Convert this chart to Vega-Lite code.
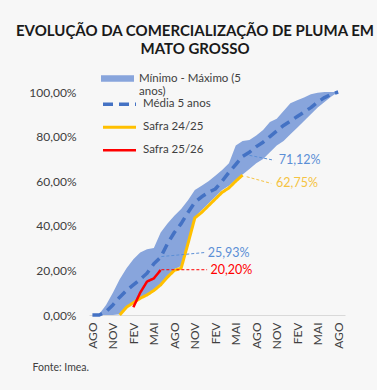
{
  "$schema": "https://vega.github.io/schema/vega-lite/v6.json",
  "autosize": {"type": "none"},
  "padding": {"left": 89, "top": 92, "right": 32, "bottom": 75},
  "width": 256,
  "height": 223,
  "background": "#f7f7f7",
  "config": {
    "view": {"stroke": null},
    "font": "Lato",
    "axis": {"labelFont": "Lato", "labelColor": "#404040", "labelFontSize": 12}
  },
  "title": {
    "text": ["EVOLUÇÃO DA COMERCIALIZAÇÃO DE PLUMA EM", "MATO GROSSO"],
    "font": "Lato", "fontSize": 15, "fontWeight": "bold", "color": "#1a1a1a",
    "anchor": "middle", "frame": "group", "dx": -22, "offset": 5.5, "lineHeight": 18
  },
  "datasets": {
    "band": [
      {"m": 0, "serie": "Mínimo - Máximo (5 anos)", "lo": 0, "hi": 0},
      {"m": 1, "serie": "Mínimo - Máximo (5 anos)", "lo": 0, "hi": 0.5},
      {"m": 2, "serie": "Mínimo - Máximo (5 anos)", "lo": 0, "hi": 4.5},
      {"m": 3, "serie": "Mínimo - Máximo (5 anos)", "lo": 0, "hi": 10},
      {"m": 4, "serie": "Mínimo - Máximo (5 anos)", "lo": 0.3, "hi": 16},
      {"m": 5, "serie": "Mínimo - Máximo (5 anos)", "lo": 3.5, "hi": 21},
      {"m": 6, "serie": "Mínimo - Máximo (5 anos)", "lo": 5.5, "hi": 25},
      {"m": 7, "serie": "Mínimo - Máximo (5 anos)", "lo": 7.5, "hi": 28},
      {"m": 8, "serie": "Mínimo - Máximo (5 anos)", "lo": 9, "hi": 29.5},
      {"m": 9, "serie": "Mínimo - Máximo (5 anos)", "lo": 11, "hi": 30},
      {"m": 10, "serie": "Mínimo - Máximo (5 anos)", "lo": 14, "hi": 37},
      {"m": 11, "serie": "Mínimo - Máximo (5 anos)", "lo": 17.5, "hi": 41},
      {"m": 12, "serie": "Mínimo - Máximo (5 anos)", "lo": 20.5, "hi": 44.5},
      {"m": 13, "serie": "Mínimo - Máximo (5 anos)", "lo": 22, "hi": 47.5},
      {"m": 14, "serie": "Mínimo - Máximo (5 anos)", "lo": 33, "hi": 51.5},
      {"m": 15, "serie": "Mínimo - Máximo (5 anos)", "lo": 44, "hi": 56},
      {"m": 16, "serie": "Mínimo - Máximo (5 anos)", "lo": 47, "hi": 58},
      {"m": 17, "serie": "Mínimo - Máximo (5 anos)", "lo": 50, "hi": 60},
      {"m": 18, "serie": "Mínimo - Máximo (5 anos)", "lo": 53, "hi": 62.5},
      {"m": 19, "serie": "Mínimo - Máximo (5 anos)", "lo": 56, "hi": 65},
      {"m": 20, "serie": "Mínimo - Máximo (5 anos)", "lo": 58, "hi": 68},
      {"m": 21, "serie": "Mínimo - Máximo (5 anos)", "lo": 60.5, "hi": 76},
      {"m": 22, "serie": "Mínimo - Máximo (5 anos)", "lo": 63, "hi": 78},
      {"m": 23, "serie": "Mínimo - Máximo (5 anos)", "lo": 65.5, "hi": 78.5},
      {"m": 24, "serie": "Mínimo - Máximo (5 anos)", "lo": 68, "hi": 80.5},
      {"m": 25, "serie": "Mínimo - Máximo (5 anos)", "lo": 70, "hi": 83},
      {"m": 26, "serie": "Mínimo - Máximo (5 anos)", "lo": 73, "hi": 86.5},
      {"m": 27, "serie": "Mínimo - Máximo (5 anos)", "lo": 76, "hi": 88},
      {"m": 28, "serie": "Mínimo - Máximo (5 anos)", "lo": 78, "hi": 91.5},
      {"m": 29, "serie": "Mínimo - Máximo (5 anos)", "lo": 81, "hi": 95},
      {"m": 30, "serie": "Mínimo - Máximo (5 anos)", "lo": 84, "hi": 96.3},
      {"m": 31, "serie": "Mínimo - Máximo (5 anos)", "lo": 87, "hi": 97.5},
      {"m": 32, "serie": "Mínimo - Máximo (5 anos)", "lo": 90, "hi": 99},
      {"m": 33, "serie": "Mínimo - Máximo (5 anos)", "lo": 93, "hi": 99.7},
      {"m": 34, "serie": "Mínimo - Máximo (5 anos)", "lo": 95.5, "hi": 100},
      {"m": 35, "serie": "Mínimo - Máximo (5 anos)", "lo": 98, "hi": 100},
      {"m": 36, "serie": "Mínimo - Máximo (5 anos)", "lo": 100, "hi": 100}
    ],
    "lines": [
      {"m": 0, "serie": "Média 5 anos", "v": 0},
      {"m": 1, "serie": "Média 5 anos", "v": 0},
      {"m": 2, "serie": "Média 5 anos", "v": 1.5},
      {"m": 3, "serie": "Média 5 anos", "v": 4.5},
      {"m": 4, "serie": "Média 5 anos", "v": 8},
      {"m": 5, "serie": "Média 5 anos", "v": 11},
      {"m": 6, "serie": "Média 5 anos", "v": 13.5},
      {"m": 7, "serie": "Média 5 anos", "v": 16},
      {"m": 8, "serie": "Média 5 anos", "v": 18.7},
      {"m": 9, "serie": "Média 5 anos", "v": 23},
      {"m": 10, "serie": "Média 5 anos", "v": 25.93},
      {"m": 11, "serie": "Média 5 anos", "v": 32},
      {"m": 12, "serie": "Média 5 anos", "v": 37},
      {"m": 13, "serie": "Média 5 anos", "v": 41},
      {"m": 14, "serie": "Média 5 anos", "v": 46},
      {"m": 15, "serie": "Média 5 anos", "v": 50.5},
      {"m": 16, "serie": "Média 5 anos", "v": 53},
      {"m": 17, "serie": "Média 5 anos", "v": 55},
      {"m": 18, "serie": "Média 5 anos", "v": 56.5},
      {"m": 19, "serie": "Média 5 anos", "v": 60},
      {"m": 20, "serie": "Média 5 anos", "v": 64},
      {"m": 21, "serie": "Média 5 anos", "v": 67.5},
      {"m": 22, "serie": "Média 5 anos", "v": 71.12},
      {"m": 23, "serie": "Média 5 anos", "v": 73},
      {"m": 24, "serie": "Média 5 anos", "v": 75.5},
      {"m": 25, "serie": "Média 5 anos", "v": 77.5},
      {"m": 26, "serie": "Média 5 anos", "v": 80},
      {"m": 27, "serie": "Média 5 anos", "v": 82.5},
      {"m": 28, "serie": "Média 5 anos", "v": 85},
      {"m": 29, "serie": "Média 5 anos", "v": 87},
      {"m": 30, "serie": "Média 5 anos", "v": 89},
      {"m": 31, "serie": "Média 5 anos", "v": 91},
      {"m": 32, "serie": "Média 5 anos", "v": 93},
      {"m": 33, "serie": "Média 5 anos", "v": 95.5},
      {"m": 34, "serie": "Média 5 anos", "v": 97.5},
      {"m": 35, "serie": "Média 5 anos", "v": 99},
      {"m": 36, "serie": "Média 5 anos", "v": 100},
      {"m": 4, "serie": "Safra 24/25", "v": 0},
      {"m": 5, "serie": "Safra 24/25", "v": 3.5},
      {"m": 6, "serie": "Safra 24/25", "v": 5.5},
      {"m": 7, "serie": "Safra 24/25", "v": 7.5},
      {"m": 8, "serie": "Safra 24/25", "v": 9},
      {"m": 9, "serie": "Safra 24/25", "v": 11},
      {"m": 10, "serie": "Safra 24/25", "v": 13.5},
      {"m": 11, "serie": "Safra 24/25", "v": 17},
      {"m": 12, "serie": "Safra 24/25", "v": 20},
      {"m": 13, "serie": "Safra 24/25", "v": 21},
      {"m": 14, "serie": "Safra 24/25", "v": 32},
      {"m": 15, "serie": "Safra 24/25", "v": 43.5},
      {"m": 16, "serie": "Safra 24/25", "v": 46},
      {"m": 17, "serie": "Safra 24/25", "v": 49},
      {"m": 18, "serie": "Safra 24/25", "v": 52},
      {"m": 19, "serie": "Safra 24/25", "v": 55},
      {"m": 20, "serie": "Safra 24/25", "v": 57},
      {"m": 21, "serie": "Safra 24/25", "v": 60},
      {"m": 22, "serie": "Safra 24/25", "v": 62.75},
      {"m": 6, "serie": "Safra 25/26", "v": 3.5},
      {"m": 7, "serie": "Safra 25/26", "v": 10},
      {"m": 8, "serie": "Safra 25/26", "v": 15},
      {"m": 9, "serie": "Safra 25/26", "v": 16.4},
      {"m": 10, "serie": "Safra 25/26", "v": 20.2}
    ],
    "ann": [
      {"key": "mean", "label": "71,12%", "m0": 23, "v0": 71.6, "m1": 26.6, "v1": 69.4, "mt": 27.3, "vt": 69.4},
      {"key": "s2425", "label": "62,75%", "m0": 22.6, "v0": 62, "m1": 26.2, "v1": 59, "mt": 26.9, "vt": 59},
      {"key": "mean", "label": "25,93%", "m0": 10.1, "v0": 26.2, "m1": 16.4, "v1": 28, "mt": 16.9, "vt": 27.6},
      {"key": "s2526", "label": "20,20%", "m0": 10.1, "v0": 20.3, "m1": 16.8, "v1": 20.3, "mt": 17.3, "vt": 20.2}
    ]
  },
  "encoding": {
    "x": {
      "type": "quantitative",
      "scale": {"domain": [-0.5, 37], "nice": false, "zero": false},
      "axis": {
        "values": [0, 3, 6, 9, 12, 15, 18, 21, 24, 27, 30, 33, 36],
        "labelExpr": "['AGO','NOV','FEV','MAI'][round(datum.value/3)%4]",
        "labelAngle": 270, "labelAlign": "right", "labelBaseline": "middle",
        "labelPadding": 7, "labelOverlap": false, "labelFlush": false,
        "ticks": false, "grid": false, "domainColor": "#d9d9d9",
        "title": "Fonte: Imea.", "titleFont": "Lato", "titleFontSize": 10.5,
        "titleFontWeight": "normal", "titleColor": "#404040",
        "titleAnchor": "start", "titleAlign": "left", "titleBaseline": "middle",
        "titleX": -57, "titleY": 52
      }
    },
    "y": {
      "type": "quantitative",
      "scale": {"domain": [0, 100], "nice": false},
      "axis": {
        "values": [0, 20, 40, 60, 80, 100],
        "labelExpr": "replace(format(datum.value, '.2f'), '.', ',') + '%'",
        "labelPadding": 13, "ticks": false, "grid": false, "domain": false, "title": null
      }
    }
  },
  "layer": [
    {
      "data": {"name": "band"},
      "mark": {"type": "area", "opacity": 1},
      "encoding": {
        "x": {"field": "m", "type": "quantitative"},
        "y": {"field": "lo", "type": "quantitative"},
        "y2": {"field": "hi"},
        "fill": {
          "field": "serie", "type": "nominal",
          "scale": {"domain": ["Mínimo - Máximo (5 anos)"], "range": ["#88a5dc"]},
          "legend": {
            "title": null, "orient": "none", "legendX": 12, "legendY": -30,
            "symbolType": "M-1,-0.2H1V0.2H-1Z", "symbolSize": 1089, "symbolStrokeWidth": 0,
            "labelFont": "Lato", "labelFontSize": 11.5, "labelColor": "#404040",
            "labelOffset": 5, "labelLimit": 300,
            "labelExpr": "['Mínimo - Máximo (5', 'anos)']",
            "encode": {"labels": {"update": {"lineHeight": {"value": 10.5}}}}
          }
        }
      }
    },
    {
      "data": {"name": "lines"},
      "mark": {"type": "line", "strokeJoin": "round"},
      "encoding": {
        "x": {"field": "m", "type": "quantitative"},
        "y": {"field": "v", "type": "quantitative"},
        "stroke": {
          "field": "serie", "type": "nominal",
          "scale": {
            "domain": ["Média 5 anos", "Safra 24/25", "Safra 25/26"],
            "range": ["#4472c4", "#ffc000", "#ff0000"]
          },
          "legend": {
            "title": null, "orient": "none", "legendX": 12, "legendY": 1,
            "symbolType": "stroke", "symbolSize": 1089, "clipHeight": 22.5, "rowPadding": 0,
            "labelFont": "Lato", "labelFontSize": 11.5, "labelColor": "#404040",
            "labelOffset": 5, "labelLimit": 300,
            "encode": {
              "symbols": {
                "update": {
                  "strokeWidth": {"value": 3},
                  "strokeDash": {"signal": "datum.value == 'Média 5 anos' ? [8,6] : [1,0]"}
                }
              }
            }
          }
        },
        "strokeDash": {
          "field": "serie", "type": "nominal",
          "scale": {"domain": ["Média 5 anos", "Safra 24/25", "Safra 25/26"], "range": [[10, 6], [1, 0], [1, 0]]},
          "legend": null
        },
        "strokeWidth": {
          "field": "serie", "type": "nominal",
          "scale": {"domain": ["Média 5 anos", "Safra 24/25", "Safra 25/26"], "range": [3.5, 2.5, 2.5]},
          "legend": null
        }
      }
    },
    {
      "data": {"name": "ann"},
      "mark": {"type": "rule", "strokeDash": [3, 2], "strokeWidth": 1},
      "encoding": {
        "x": {"field": "m0", "type": "quantitative"},
        "x2": {"field": "m1"},
        "y": {"field": "v0", "type": "quantitative"},
        "y2": {"field": "v1"},
        "color": {
          "field": "key", "type": "nominal",
          "scale": {"domain": ["mean", "s2425", "s2526"], "range": ["#5b8fd6", "#f5c342", "#ff0000"]},
          "legend": null
        }
      }
    },
    {
      "data": {"name": "ann"},
      "mark": {"type": "text", "align": "left", "baseline": "middle", "font": "Lato", "fontSize": 12.5},
      "encoding": {
        "x": {"field": "mt", "type": "quantitative"},
        "y": {"field": "vt", "type": "quantitative"},
        "text": {"field": "label"},
        "color": {
          "field": "key", "type": "nominal",
          "scale": {"domain": ["mean", "s2425", "s2526"], "range": ["#5b8fd6", "#f5c342", "#ff0000"]},
          "legend": null
        }
      }
    }
  ]
}
